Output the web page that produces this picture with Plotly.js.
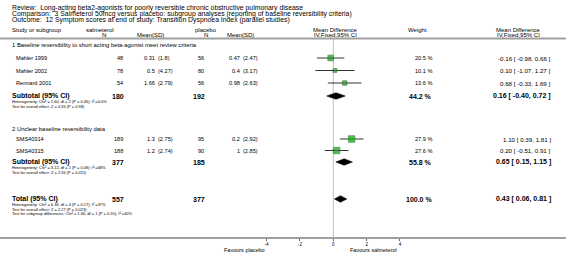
<!DOCTYPE html>
<html><head><meta charset="utf-8">
<script src="https://cdn.plot.ly/plotly-3.0.1.min.js"></script>
<style>html,body{margin:0;padding:0;background:#fff}#chart{width:566px;height:260px}</style>
</head><body><div id="chart"></div>
<script>
// ---------------- data ----------------
const reviewTitle = "Review:  Long-acting beta2-agonists for poorly reversible chronic obstructive pulmonary disease";
const comparisonTitle = "Comparison:  3 Salmeterol 50mcg versus placebo: subgroup analyses (reporting of baseline reversibility criteria)";
const outcomeTitle = "Outcome:  12 Symptom scores at end of study: Transition Dyspnoea Index (parallel studies)";

const groupNames = ["1 Baseline reversibility to short acting beta-agonist meet review criteria",
                    "2 Unclear baseline reversibility data"];
const studyNames = ["Mahler 1999", "Mahler 2002", "Rennard 2001", "SMS40314", "SMS40315"];
const salmN = [48, 78, 54, 189, 188];
const salmMean = ["0.31", "0.5", "1.66", "1.3", "1.2"];
const salmSD = ["1.8", "4.27", "2.79", "2.75", "2.74"];
const placN = [56, 80, 56, 95, 90];
const placMean = ["0.47", "0.4", "0.98", "0.2", "1"];
const placSD = ["2.47", "3.17", "2.63", "2.92", "2.85"];
const studyWeight = [20.5, 10.1, 13.6, 27.9, 27.6];
const studyMD = [-0.16, 0.10, 0.68, 1.10, 0.20];
const studyLo = [-0.98, -1.07, -0.33, 0.39, -0.51];
const studyHi = [0.66, 1.27, 1.69, 1.81, 0.91];

const summaryLabels = ["Subtotal (95% CI)", "Subtotal (95% CI)", "Total (95% CI)"];
const summarySalmN = [180, 377, 557];
const summaryPlacN = [192, 185, 377];
const summaryWeight = [44.2, 55.8, 100.0];
const summaryMD = [0.16, 0.65, 0.43];
const summaryLo = [-0.40, 0.15, 0.06];
const summaryHi = [0.72, 1.15, 0.81];
const summaryNotes = [
  ["Heterogeneity: Chi\u00b2 = 1.60, df = 2 (P = 0.45); I\u00b2 =0.0%", "Test for overall effect: Z = 0.55 (P = 0.58)"],
  ["Heterogeneity: Chi\u00b2 = 3.12, df = 1 (P = 0.08); I\u00b2 =68%", "Test for overall effect: Z = 2.55 (P = 0.011)"],
  ["Heterogeneity: Chi\u00b2 = 6.36, df = 4 (P = 0.17); I\u00b2 =37%", "Test for overall effect: Z = 2.27 (P = 0.023)",
   "Test for subgroup differences: Chi\u00b2 = 1.66, df = 1 (P = 0.20), I\u00b2 =40%"]
];
const tickVals = [-4, -2, 0, 2, 4];
const tickLabels = ["-4", "-2", "0", "2", "4"];
const favoursLeft = "Favours placebo";
const favoursRight = "Favours salmeterol";

// ---------------- layout (positions / styles) ----------------
const W = 566, H = 260;
const ZERO_PX = 333.3, PX_PER_UNIT = 16.67;
const FONT = "Liberation Sans, Arial, Helvetica, sans-serif";
const Y = {review: 7.5, comparison: 13.7, outcome: 19.9, head1: 29.5, head2: 34.5, rule: 38.5,
           axis: 238, favours: 249.5};
const groupHeadY = [45, 128.5];
const studyY = [58, 70.5, 83, 139, 150.5];
const summaryY = [96, 162, 199];
const NOTE_FIRST = 5.5, NOTE_STEP = 4.6;
const COL = {left: 11, study: 15, salmN: 124, salmMean: 155.5, salmSD: 157, placN: 205,
             placMean: 240.5, placSD: 242, weight: 433, ci: 552};
const NOTE_TARGET_W = 95;   // rendered width of the first heterogeneity line in the reference
const FS = {title: 6.85, head: 6, group: 5.9, row: 5.6, ci: 6.2, bold: 7, note: 4.3, tick: 4.5, fav: 5.5};
const SQ_K = 1.25, DIAMOND_H = 3.3;

const ann = [];
const noteIdx = [];
function txt(px, py, text, size, anchor, bold) {
  ann.push({xref: 'paper', yref: 'y', x: px / W, y: py, text: bold ? '<b>' + text + '</b>' : String(text),
            showarrow: false, xanchor: anchor || 'left', yanchor: 'middle', borderpad: 0,
            font: {family: FONT, size: size, color: '#000'}});
  return ann.length - 1;
}
const f2 = v => v.toFixed(2);
const ciText = (m, l, h) => f2(m) + ' [ ' + f2(l) + ', ' + f2(h) + ' ]';

// titles
txt(COL.left, Y.review, reviewTitle, FS.title);
txt(COL.left, Y.comparison, comparisonTitle, FS.title);
txt(COL.left, Y.outcome, outcomeTitle, FS.title);
// headers
txt(COL.left, Y.head1, "Study or subgroup", FS.head);
txt(100, Y.head1, "salmeterol", FS.head, 'center');
txt(104, Y.head2, "N", FS.head, 'center');
txt(150, Y.head2, "Mean(SD)", FS.head, 'center');
txt(206, Y.head1, "placebo", FS.head, 'center');
txt(206, Y.head2, "N", FS.head, 'center');
txt(240.5, Y.head2, "Mean(SD)", FS.head, 'center');
txt(335, Y.head1, "Mean Difference", FS.head, 'center');
txt(335, Y.head2, "IV,Fixed,95% CI", FS.head, 'center');
txt(407, Y.head1, "Weight", FS.head, 'left');
txt(518, Y.head1, "Mean Difference", FS.head, 'center');
txt(518, Y.head2, "IV,Fixed,95% CI", FS.head, 'center');
// group headers
groupNames.forEach((g, i) => txt(COL.left, groupHeadY[i], g, FS.group));
// studies
studyNames.forEach((s, i) => {
  const y = studyY[i];
  txt(COL.study, y, s, FS.row);
  txt(COL.salmN, y, salmN[i], FS.row, 'right');
  txt(COL.salmMean, y, salmMean[i], FS.row, 'right');
  txt(COL.salmSD, y, '(' + salmSD[i] + ')', FS.row, 'left');
  txt(COL.placN, y, placN[i], FS.row, 'right');
  txt(COL.placMean, y, placMean[i], FS.row, 'right');
  txt(COL.placSD, y, '(' + placSD[i] + ')', FS.row, 'left');
  txt(COL.weight, y, studyWeight[i].toFixed(1) + ' %', FS.row, 'right');
  txt(COL.ci, y, ciText(studyMD[i], studyLo[i], studyHi[i]), FS.ci, 'right');
});
// summaries
summaryLabels.forEach((s, i) => {
  const y = summaryY[i];
  txt(COL.left, y, s, FS.bold, 'left', true);
  txt(COL.salmN + 1, y, summarySalmN[i], FS.bold, 'right', true);
  txt(COL.placN + 1, y, summaryPlacN[i], FS.bold, 'right', true);
  txt(COL.weight, y, summaryWeight[i].toFixed(1) + ' %', FS.bold, 'right', true);
  txt(COL.ci, y, ciText(summaryMD[i], summaryLo[i], summaryHi[i]), FS.bold, 'right', true);
  summaryNotes[i].forEach((n, k) => noteIdx.push(txt(COL.left, y + NOTE_FIRST + k * NOTE_STEP, n, FS.note)));
});
txt(266, Y.favours, favoursLeft, FS.fav, 'right');
txt(349, Y.favours, favoursRight, FS.fav, 'left');

// ---------------- traces ----------------
const traces = [];
summaryMD.forEach((m, i) => {
  const y = summaryY[i];
  traces.push({type: 'scatter', mode: 'lines', hoverinfo: 'skip',
    x: [summaryLo[i], m, summaryHi[i], m, summaryLo[i]],
    y: [y, y - DIAMOND_H, y, y + DIAMOND_H, y],
    fill: 'toself', fillcolor: '#000', line: {color: '#000', width: 0.5}});
});
traces.push({type: 'scatter', mode: 'markers', hoverinfo: 'skip', x: studyMD, y: studyY,
  marker: {symbol: 'square', size: studyWeight.map(w => SQ_K * Math.sqrt(w)), color: '#00a800',
           line: {color: '#006000', width: 0.6}},
  error_x: {type: 'data', symmetric: false, array: studyHi.map((h, i) => h - studyMD[i]),
            arrayminus: studyLo.map((l, i) => studyMD[i] - l), color: '#000', thickness: 0.8, width: 0}});
traces.push({type: 'scatter', mode: 'markers', hoverinfo: 'skip', x: studyMD, y: studyY,
  marker: {symbol: 'line-ns-open', size: 2, line: {color: '#000', width: 0.8}}});

const layout = {
  width: W, height: H, margin: {l: 0, r: 0, t: 0, b: 0, pad: 0},
  paper_bgcolor: '#fff', plot_bgcolor: '#fff', showlegend: false,
  xaxis: {domain: [0, 1], range: [-ZERO_PX / PX_PER_UNIT, (W - ZERO_PX) / PX_PER_UNIT],
          anchor: 'free', position: 1 - Y.axis / H, showline: true, linecolor: '#a0a0a0', linewidth: 2,
          ticks: 'outside', ticklen: 2, tickwidth: 0.8, tickcolor: '#444',
          tickvals: tickVals, ticktext: tickLabels, tickfont: {family: FONT, size: FS.tick, color: '#000'},
          showgrid: false, zeroline: false, fixedrange: true},
  yaxis: {domain: [0, 1], range: [H, 0], visible: false, fixedrange: true},
  shapes: [
    {type: 'line', xref: 'paper', yref: 'y', x0: 0, x1: 1, y0: Y.rule, y1: Y.rule,
     line: {color: '#a0a0a0', width: 2}},
    {type: 'line', xref: 'x', yref: 'y', x0: 0, x1: 0, y0: Y.rule + 1, y1: Y.axis, layer: 'below',
     line: {color: '#c0c0c0', width: 1}}
  ],
  annotations: ann
};
Plotly.newPlot('chart', traces, layout, {staticPlot: true, displayModeBar: false}).then(gd => {
  // scale the small note lines so that the first one has the reference's rendered width
  let el = null;
  gd.querySelectorAll('.annotation-text').forEach(n => {
    if (n.textContent.indexOf('1.60, df = 2') >= 0) el = n;
  });
  if (!el) return;
  const w = el.getBBox().width;
  if (!(w > 0)) return;
  const s = FS.note * NOTE_TARGET_W / w;
  const upd = {};
  noteIdx.forEach(i => { upd['annotations[' + i + '].font.size'] = s; });
  return Plotly.relayout(gd, upd);
});
</script></body></html>
